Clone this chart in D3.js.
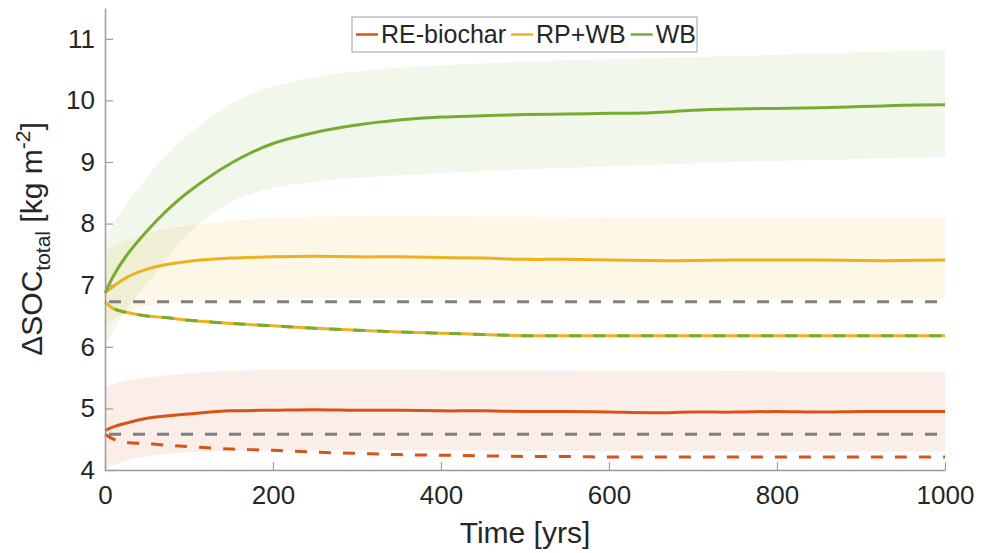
<!DOCTYPE html>
<html>
<head>
<meta charset="utf-8">
<script src="https://cdn.jsdelivr.net/npm/d3@7"></script>
<style>
body { margin: 0; background: #fff; }
text { font-family: "Liberation Sans", Arial, Helvetica, sans-serif; fill: #262626; }
</style>
</head>
<body>
<div id="graph"></div>
<script>
// time samples (years)
var years = [0, 10, 25, 50, 75, 100, 150, 200, 250, 300, 350, 400, 450, 500, 550, 600, 650, 700, 750, 800, 850, 900, 950, 1000]
var bandYears = [0, 25, 50, 75, 100, 150, 200, 250, 300, 400, 500, 600, 700, 800, 900, 1000]

// mean trajectories
var wbMean = [6.87, 7.15, 7.47, 7.88, 8.23, 8.52, 8.98, 9.3, 9.48, 9.6, 9.68, 9.73, 9.75, 9.77, 9.78, 9.79, 9.8, 9.84, 9.86, 9.87, 9.88, 9.9, 9.92, 9.93]
var rpwbMean = [6.88, 6.98, 7.12, 7.26, 7.34, 7.39, 7.44, 7.46, 7.47, 7.46, 7.46, 7.45, 7.44, 7.42, 7.42, 7.41, 7.4, 7.4, 7.41, 7.41, 7.41, 7.4, 7.4, 7.41]
var reMean = [4.64, 4.7, 4.76, 4.84, 4.88, 4.91, 4.96, 4.97, 4.98, 4.97, 4.97, 4.96, 4.96, 4.95, 4.95, 4.94, 4.93, 4.94, 4.94, 4.95, 4.94, 4.95, 4.95, 4.95]
// dashed trajectories
var wbDashed = [6.73, 6.62, 6.56, 6.5, 6.47, 6.43, 6.38, 6.34, 6.3, 6.27, 6.24, 6.22, 6.2, 6.18, 6.18, 6.18, 6.18, 6.18, 6.18, 6.18, 6.18, 6.18, 6.18, 6.18]
var reDashed = [4.58, 4.5, 4.45, 4.43, 4.4, 4.38, 4.34, 4.32, 4.29, 4.27, 4.25, 4.24, 4.23, 4.22, 4.22, 4.21, 4.21, 4.21, 4.21, 4.21, 4.21, 4.21, 4.21, 4.21]

// uncertainty bands
var wbUpper = [7.79, 8.3, 8.75, 9.15, 9.45, 9.95, 10.22, 10.38, 10.47, 10.57, 10.63, 10.67, 10.7, 10.74, 10.78, 10.82]
var wbLower = [6.0, 6.6, 7.02, 7.45, 7.85, 8.35, 8.58, 8.68, 8.74, 8.82, 8.88, 8.93, 8.98, 9.02, 9.05, 9.08]
var rpwbUpper = [7.57, 7.72, 7.84, 7.92, 7.97, 8.05, 8.09, 8.11, 8.12, 8.12, 8.11, 8.1, 8.1, 8.09, 8.09, 8.09]
var rpwbLower = [6.35, 6.55, 6.66, 6.71, 6.74, 6.77, 6.78, 6.79, 6.79, 6.79, 6.78, 6.78, 6.77, 6.77, 6.77, 6.77]
var reUpper = [5.35, 5.45, 5.5, 5.54, 5.57, 5.61, 5.63, 5.63, 5.63, 5.62, 5.62, 5.61, 5.61, 5.6, 5.6, 5.6]
var reLower = [4.02, 4.15, 4.22, 4.26, 4.29, 4.31, 4.31, 4.32, 4.32, 4.32, 4.31, 4.31, 4.31, 4.3, 4.3, 4.3]

// grey reference levels
var baseLevels = [6.73, 4.58]

var xTicks = [0, 200, 400, 600, 800, 1000]
var yTicks = [4, 5, 6, 7, 8, 9, 10, 11]
var legendLabels = ["RE-biochar", "RP+WB", "WB"]

var colRE = "#D95319", colRP = "#EDB120", colWB = "#77AC30"

var width = 981, height = 553
var margin = {top: 8, left: 105, right: 36, bottom: 83}
var lw = 3

var svg = d3.select("#graph").append("svg").attr("width", width).attr("height", height)

var x = d3.scaleLinear().domain([0, 1000]).range([margin.left, width - margin.right])
var y = d3.scaleLinear().domain([4, 11.5]).range([height - margin.bottom, margin.top])

function pairs(ts, vs) { return ts.map(function(t, i) { return [t, vs[i]] }) }

var area = d3.area()
	.x(function(d) { return x(d[0]) })
	.y0(function(d) { return y(d[1]) })
	.y1(function(d) { return y(d[2]) })
	.curve(d3.curveCatmullRom.alpha(0.5))
var line = d3.line()
	.x(function(d) { return x(d[0]) })
	.y(function(d) { return y(d[1]) })
	.curve(d3.curveCatmullRom.alpha(0.5))

// bands
var bands = [
	{lo: reLower, hi: reUpper, c: colRE},
	{lo: rpwbLower, hi: rpwbUpper, c: colRP},
	{lo: wbLower, hi: wbUpper, c: colWB}
]
bands.forEach(function(b) {
	svg.append("path")
		.datum(bandYears.map(function(t, i) { return [t, b.lo[i], b.hi[i]] }))
		.attr("d", area)
		.attr("fill", b.c)
		.attr("fill-opacity", 0.1)
})

// grey dashed reference lines
baseLevels.forEach(function(v) {
	svg.append("line")
		.attr("x1", x(0)).attr("x2", x(1000))
		.attr("y1", y(v)).attr("y2", y(v))
		.attr("stroke", "#808080").attr("stroke-width", lw)
		.attr("stroke-dasharray", "12,12").attr("stroke-dashoffset", -4)
})

// dashed trajectories
svg.append("path").datum(pairs(years, reDashed)).attr("d", line)
	.attr("fill", "none").attr("stroke", colRE).attr("stroke-width", lw)
	.attr("stroke-dasharray", "12,12")
svg.append("path").datum(pairs(years, wbDashed)).attr("d", line)
	.attr("fill", "none").attr("stroke", colRP).attr("stroke-width", lw)
svg.append("path").datum(pairs(years, wbDashed)).attr("d", line)
	.attr("fill", "none").attr("stroke", colWB).attr("stroke-width", lw)
	.attr("stroke-dasharray", "12,12").attr("stroke-dashoffset", 12)

// mean lines
;[[reMean, colRE], [rpwbMean, colRP], [wbMean, colWB]].forEach(function(s) {
	svg.append("path").datum(pairs(years, s[0])).attr("d", line)
		.attr("fill", "none").attr("stroke", s[1]).attr("stroke-width", lw)
})

// axes
var axisCol = "#9a9a9a"
var xAxis = svg.append("g").attr("transform", "translate(0," + y(4) + ")")
	.call(d3.axisBottom(x).tickValues(xTicks).tickFormat(d3.format("d"))
		.tickSizeInner(-8).tickSizeOuter(0).tickPadding(16))
var yAxis = svg.append("g").attr("transform", "translate(" + x(0) + ",0)")
	.call(d3.axisLeft(y).tickValues(yTicks).tickSizeInner(-8).tickSizeOuter(0).tickPadding(10))
;[xAxis, yAxis].forEach(function(a) {
	a.select(".domain").attr("stroke", axisCol).attr("stroke-width", 1.5)
	a.selectAll(".tick line").attr("stroke", axisCol).attr("stroke-width", 1.2)
	a.selectAll(".tick text").attr("font-size", 26).attr("fill", "#262626")
		.style("font-family", "Liberation Sans, Arial, sans-serif")
})

// axis labels
svg.append("text").attr("x", (x(0) + x(1000)) / 2).attr("y", 543)
	.attr("text-anchor", "middle").attr("font-size", 30).text("Time [yrs]")

var yl = svg.append("text")
	.attr("transform", "translate(42," + (y(4) + y(11.5)) / 2 + ") rotate(-90)")
	.attr("text-anchor", "middle").attr("font-size", 30)
yl.append("tspan").text("\u0394SOC")
yl.append("tspan").attr("font-size", 21).attr("dy", 8).text("total")
yl.append("tspan").attr("dy", -8).text(" [kg m")
yl.append("tspan").attr("font-size", 21).attr("dy", -12).text("-2")
yl.append("tspan").attr("dy", 12).text("]")

// legend
var leg = svg.append("g")
leg.append("rect").attr("x", 352).attr("y", 17).attr("width", 345).attr("height", 35)
	.attr("fill", "#fff").attr("stroke", "#a0a0a0").attr("stroke-width", 1)
var legCols = [colRE, colRP, colWB]
var lx = 356
legendLabels.forEach(function(lab, i) {
	leg.append("line").attr("x1", lx).attr("x2", lx + 22).attr("y1", 34.5).attr("y2", 34.5)
		.attr("stroke", legCols[i]).attr("stroke-width", 2.5)
	var t = leg.append("text").attr("x", lx + 25).attr("y", 43).attr("font-size", 25).text(lab)
	lx += 25 + t.node().getComputedTextLength() + 5
})
</script>
</body>
</html>
